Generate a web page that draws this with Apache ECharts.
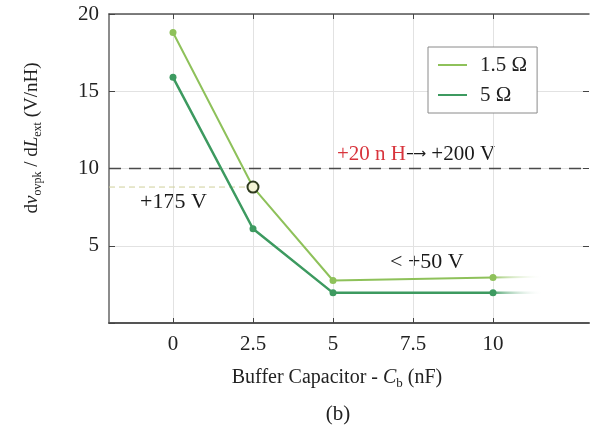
<!DOCTYPE html>
<html>
<head>
<meta charset="utf-8">
<script src="https://cdn.jsdelivr.net/npm/echarts@6/dist/echarts.min.js"></script>
<style>
  html, body { margin: 0; padding: 0; background: #fff; }
  #chart { width: 599px; height: 430px; }
</style>
</head>
<body>
<div id="chart"></div>
<script>
// Buffer capacitance (nF) at which the overshoot slope was measured
const capacitance = [0, 2.5, 5, 10];
// Overshoot slope dv/dL (V/nH) for each damping resistor
const slope1p5 = [18.8, 8.8, 2.75, 2.95];
const slope5 = [15.9, 6.1, 1.95, 1.95];
// Fading continuation past the last measurement
const tailX = [10, 11.5];
const tail1p5 = [2.95, 3.0];
const tail5 = [1.95, 1.95];
// Axis ticks
const xTicks = [0, 2.5, 5, 7.5, 10];
const yTicks = [5, 10, 15, 20];
// Limit level (20 nH -> +200 V) and the highlighted operating point
const limitLevel = 10;
const markedIndex = 1;

const FONT = 'Liberation Serif';
const C15 = '#8ec15a';
const C5 = '#3d9a60';
const X_MIN = -2, X_MAX = 13;

const zip = (xs, ys) => xs.map((x, i) => [x, ys[i]]);

const data15 = zip(capacitance, slope1p5).map((p, i) => i === markedIndex ? {
  value: p, symbolSize: 11,
  itemStyle: { color: '#f3f3d6', borderColor: '#2f3a1e', borderWidth: 2 }
} : p);

function fade(color) {
  return new echarts.graphic.LinearGradient(0, 0, 1, 0, [
    { offset: 0, color: color },
    { offset: 1, color: 'rgba(255,255,255,0)' }
  ]);
}

const chart = echarts.init(document.getElementById('chart'), null, { renderer: 'canvas' });

chart.setOption({
  animation: false,
  backgroundColor: '#fff',
  textStyle: { fontFamily: FONT },
  grid: { left: 109, right: 10, top: 14, bottom: 107, containLabel: false },
  legend: {
    data: ['1.5 Ω', '5 Ω'],
    orient: 'vertical',
    left: 428, top: 47,
    icon: 'rect',
    itemWidth: 29, itemHeight: 2,
    itemGap: 8,
    padding: [7, 10, 7, 10],
    borderColor: '#8a8a8a', borderWidth: 1,
    backgroundColor: '#fff',
    textStyle: { fontFamily: FONT, fontSize: 21, color: '#222', lineHeight: 22, padding: [0, 0, 0, 8] }
  },
  xAxis: [{
    type: 'value', min: X_MIN, max: X_MAX,
    axisLine: { show: true, onZero: false, lineStyle: { color: '#555', width: 2 } },
    axisTick: { show: true, inside: true, length: 5, customValues: xTicks, lineStyle: { color: '#444' } },
    axisLabel: { customValues: xTicks, fontFamily: FONT, fontSize: 21, color: '#222', margin: 11 },
    splitLine: { show: true, lineStyle: { color: '#e2e2e2', width: 1 } }
  }, {
    type: 'value', min: X_MIN, max: X_MAX, position: 'top',
    axisLine: { show: true, onZero: false, lineStyle: { color: '#555', width: 1.5 } },
    axisTick: { show: true, inside: true, length: 5, customValues: xTicks, lineStyle: { color: '#444' } },
    axisLabel: { show: false },
    splitLine: { show: false }
  }],
  yAxis: [{
    type: 'value', min: 0, max: 20, interval: 5,
    axisLine: { show: true, onZero: false, lineStyle: { color: '#666', width: 1.5 } },
    axisTick: { show: true, inside: true, length: 6, lineStyle: { color: '#444' } },
    axisLabel: { customValues: yTicks, fontFamily: FONT, fontSize: 21, color: '#222', margin: 10 },
    splitLine: { show: true, lineStyle: { color: '#e2e2e2', width: 1 } }
  }, {
    type: 'value', min: 0, max: 20, interval: 5, position: 'right',
    axisLine: { show: false, onZero: false },
    axisTick: { show: true, inside: true, length: 6, customValues: [5, 10, 15], lineStyle: { color: '#444' } },
    axisLabel: { show: false },
    splitLine: { show: false }
  }],
  series: [
    {
      name: 'limit', type: 'line', silent: true, z: 1,
      data: [[X_MIN, limitLevel], [X_MAX, limitLevel]],
      symbol: 'none',
      lineStyle: { color: '#4a4a4a', width: 1.5, type: [12, 8] }
    },
    {
      name: 'operating', type: 'line', silent: true, z: 1,
      data: [[X_MIN, slope1p5[markedIndex]], [capacitance[markedIndex], slope1p5[markedIndex]]],
      symbol: 'none',
      lineStyle: { color: '#cfcf9a', width: 1, type: [6, 4] }
    },
    {
      name: '1.5 Ω', type: 'line', z: 3,
      data: zip(tailX, tail1p5), symbol: 'none',
      itemStyle: { color: C15 },
      lineStyle: { color: fade(C15), width: 2 }
    },
    {
      name: '5 Ω', type: 'line', z: 3,
      data: zip(tailX, tail5), symbol: 'none',
      itemStyle: { color: C5 },
      lineStyle: { color: fade(C5), width: 2.5 }
    },
    {
      name: '1.5 Ω', type: 'line', z: 4,
      data: data15,
      symbol: 'circle', symbolSize: 7,
      itemStyle: { color: C15 },
      lineStyle: { color: C15, width: 2 }
    },
    {
      name: '5 Ω', type: 'line', z: 4,
      data: zip(capacitance, slope5),
      symbol: 'circle', symbolSize: 7,
      itemStyle: { color: C5 },
      lineStyle: { color: C5, width: 2.5 }
    }
  ],
  graphic: [
    {
      type: 'text', x: 32, y: 138, rotation: Math.PI / 2,
      style: {
        text: '{n|d}{i|v}{s|ovpk}{n| / d}{i|L}{s|ext}{n| (V/nH)}',
        align: 'center', verticalAlign: 'middle',
        rich: {
          n: { fontFamily: FONT, fontSize: 19, lineHeight: 24, fill: '#222' },
          i: { fontFamily: FONT, fontSize: 19, lineHeight: 24, fontStyle: 'italic', fill: '#222' },
          s: { fontFamily: FONT, fontSize: 12, lineHeight: 13, verticalAlign: 'bottom', fill: '#222' }
        }
      }
    },
    {
      type: 'text', x: 337, y: 378,
      style: {
        text: '{n|Buffer Capacitor - }{i|C}{s|b}{n| (nF)}',
        align: 'center', verticalAlign: 'middle',
        rich: {
          n: { fontFamily: FONT, fontSize: 20, lineHeight: 24, fill: '#222' },
          i: { fontFamily: FONT, fontSize: 20, lineHeight: 24, fontStyle: 'italic', fill: '#222' },
          s: { fontFamily: FONT, fontSize: 13, lineHeight: 14, verticalAlign: 'bottom', fill: '#222' }
        }
      }
    },
    {
      type: 'text', x: 338, y: 414,
      style: { text: '(b)', align: 'center', verticalAlign: 'middle', fontFamily: FONT, fontSize: 21, fill: '#222' }
    },
    {
      type: 'text', x: 337, y: 154,
      style: {
        text: '{r|+20 n H}{a|⟶}{k| +200 V}',
        align: 'left', verticalAlign: 'middle',
        rich: {
          r: { fontFamily: FONT, fontSize: 21, lineHeight: 26, fill: '#d8343c' },
          a: { fontFamily: 'DejaVu Sans', fontSize: 14, lineHeight: 26, fill: '#1a1a1a' },
          k: { fontFamily: FONT, fontSize: 21, lineHeight: 26, fill: '#1a1a1a' }
        }
      }
    },
    {
      type: 'text', x: 140, y: 202,
      style: { text: '+175 V', align: 'left', verticalAlign: 'middle', fontFamily: FONT, fontSize: 22, fill: '#1a1a1a' }
    },
    {
      type: 'text', x: 390, y: 262,
      style: { text: '< +50 V', align: 'left', verticalAlign: 'middle', fontFamily: FONT, fontSize: 22, fill: '#1a1a1a' }
    }
  ]
});
</script>
</body>
</html>
